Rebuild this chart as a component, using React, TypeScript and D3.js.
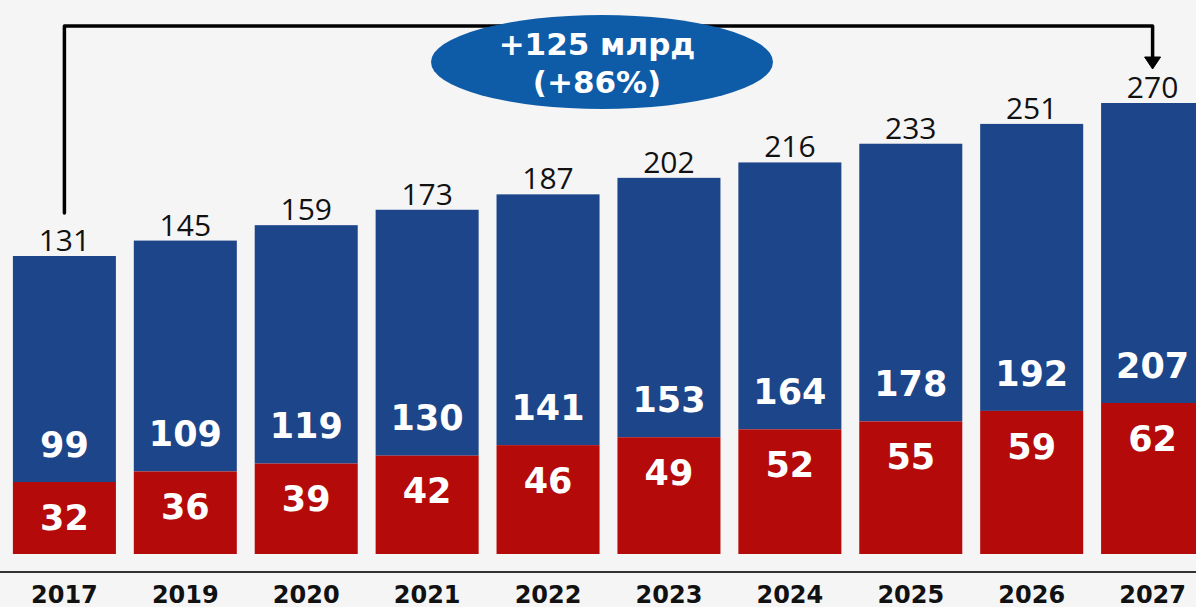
import React from "react";
import * as d3 from "d3";

const years = ["2017", "2019", "2020", "2021", "2022", "2023", "2024", "2025", "2026", "2027"];
const redValues = [32, 36, 39, 42, 46, 49, 52, 55, 59, 62];
const blueValues = [99, 109, 119, 130, 141, 153, 164, 178, 192, 207];
const totals = [131, 145, 159, 173, 187, 202, 216, 233, 251, 270];
const growthLine1 = "+125 млрд";
const growthLine2 = "(+86%)";

const W = 1196;
const H = 607;
const BASE = 554;

const BLUE = "#1d4589";
const RED = "#b40a0a";
const ELLIPSE = "#0e5ca8";
const BG = "#f5f5f5";

export default function App() {
  const x = d3
    .scaleBand<string>()
    .domain(years)
    .range([-5, 1222])
    .paddingInner(0.148)
    .paddingOuter(0.148);
  const totalY = d3.scaleLinear().domain([131, 270]).range([256, 103]);
  const redY = d3.scaleLinear().domain([32, 62]).range([482, 403]);
  const bw = x.bandwidth();
  const cx = (y: string) => (x(y) as number) + bw / 2;

  const firstX = cx(years[0]);
  const lastX = cx(years[years.length - 1]);
  const bracketTop = 26;
  const leftEnd = totalY(totals[0]) - 43;
  const arrowTip = totalY(totals[totals.length - 1]) - 34;

  const boldFont = "'DejaVu Sans', sans-serif";
  const regFont = "'Open Sans', sans-serif";

  return (
    <svg
      width={W}
      height={H}
      style={{ position: "absolute", left: 0, top: 0, display: "block" }}
    >
      <rect x={0} y={0} width={W} height={H} fill={BG} />
      {years.map((yr, i) => {
        const x0 = x(yr) as number;
        const rTop = redY(redValues[i]);
        const tTop = totalY(totals[i]);
        return (
          <g key={yr}>
            <rect x={x0} y={tTop} width={bw} height={rTop - tTop} fill={BLUE} />
            <rect x={x0} y={rTop} width={bw} height={BASE - rTop} fill={RED} />
            <text
              x={cx(yr)}
              y={tTop - 5}
              textAnchor="middle"
              fontFamily={regFont}
              fontSize={30}
              fill="#111"
            >
              {totals[i]}
            </text>
            <text
              x={cx(yr)}
              y={rTop - 38}
              dy="0.36em"
              textAnchor="middle"
              fontFamily={boldFont}
              fontWeight="bold"
              fontSize={35}
              fill="#fff"
            >
              {blueValues[i]}
            </text>
            <text
              x={cx(yr)}
              y={rTop + 35}
              dy="0.36em"
              textAnchor="middle"
              fontFamily={boldFont}
              fontWeight="bold"
              fontSize={35}
              fill="#fff"
            >
              {redValues[i]}
            </text>
            <text
              x={cx(yr)}
              y={603}
              textAnchor="middle"
              fontFamily={boldFont}
              fontWeight="bold"
              fontSize={24}
              fill="#111"
            >
              {yr}
            </text>
          </g>
        );
      })}
      <line x1={0} x2={W} y1={572} y2={572} stroke="#333" strokeWidth={2} />
      <path
        d={`M${firstX},${leftEnd} V${bracketTop} H${lastX} V${arrowTip - 11}`}
        fill="none"
        stroke="#000"
        strokeWidth={3.5}
        strokeLinecap="round"
        strokeLinejoin="round"
      />
      <path
        d={`M${lastX - 8},${arrowTip - 12} L${lastX + 8},${arrowTip - 12} L${lastX},${arrowTip} Z`}
        fill="#000"
        stroke="#000"
        strokeWidth={1}
        strokeLinejoin="round"
      />
      <ellipse cx={602} cy={62} rx={171} ry={47} fill={ELLIPSE} />
      <text
        x={597}
        y={55}
        textAnchor="middle"
        fontFamily={boldFont}
        fontWeight="bold"
        fontSize={31}
        fill="#fff"
      >
        {growthLine1}
      </text>
      <text
        x={597}
        y={93}
        textAnchor="middle"
        fontFamily={boldFont}
        fontWeight="bold"
        fontSize={31}
        fill="#fff"
      >
        {growthLine2}
      </text>
    </svg>
  );
}
